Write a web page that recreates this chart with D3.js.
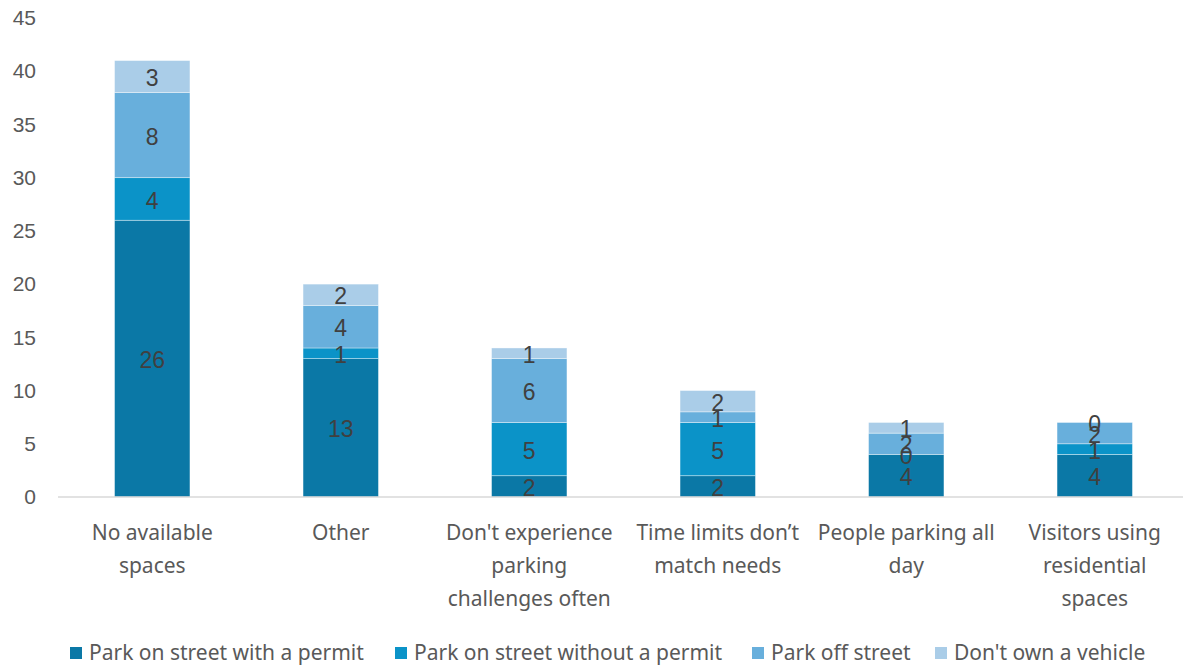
<!DOCTYPE html>
<html>
<head>
<meta charset="utf-8">
<script src="https://cdn.jsdelivr.net/npm/d3@7"></script>
<style>
  html, body { margin: 0; padding: 0; background: #ffffff; }
  svg { display: block; }
</style>
</head>
<body>
<svg id="chart" width="1183" height="666"></svg>
<script>
// Reasons for parking difficulty, split by how respondents park
const categories = [
  "No available spaces",
  "Other",
  "Don't experience parking challenges often",
  "Time limits don’t match needs",
  "People parking all day",
  "Visitors using residential spaces"
];
const categoryLines = [
  ["No available", "spaces"],
  ["Other"],
  ["Don't experience", "parking", "challenges often"],
  ["Time limits don’t", "match needs"],
  ["People parking all", "day"],
  ["Visitors using", "residential", "spaces"]
];
const seriesNames = [
  "Park on street with a permit",
  "Park on street without a permit",
  "Park off street",
  "Don't own a vehicle"
];
const withPermit    = [26, 13, 2, 2, 4, 4];
const withoutPermit = [4, 1, 5, 5, 0, 1];
const offStreet     = [8, 4, 6, 1, 2, 2];
const noVehicle     = [3, 2, 1, 2, 1, 0];
const yTicks = [0, 5, 10, 15, 20, 25, 30, 35, 40, 45];

const colors = ["#0b78a6", "#0b93c8", "#68afdc", "#aacde8"];

const table = categories.map((c, i) => ({
  category: c,
  [seriesNames[0]]: withPermit[i],
  [seriesNames[1]]: withoutPermit[i],
  [seriesNames[2]]: offStreet[i],
  [seriesNames[3]]: noVehicle[i]
}));

const svg = d3.select("#chart");

const x = d3.scaleBand()
  .domain(categories)
  .range([58, 1189])
  .paddingInner(0.6)
  .paddingOuter(0.3);

const y = d3.scaleLinear()
  .domain([0, 45])
  .range([497, 18]);

const stack = d3.stack().keys(seriesNames);
const layers = stack(table);

const labelFont = "'Noto Sans', 'Open Sans', sans-serif";
const numberFont = "'Liberation Sans', Arial, sans-serif";

// y axis labels (no axis line or gridlines)
const yAxis = svg.append("g")
  .attr("transform", "translate(36,0)")
  .call(d3.axisLeft(y).tickValues(yTicks).tickSize(0).tickPadding(0));
yAxis.select(".domain").remove();
yAxis.selectAll("text")
  .attr("font-family", numberFont)
  .attr("font-size", 21)
  .attr("fill", "#595959");

// stacked bars
const layerG = svg.append("g")
  .selectAll("g")
  .data(layers)
  .join("g")
  .attr("fill", (d, i) => colors[i]);

layerG.selectAll("rect")
  .data(d => d)
  .join("rect")
  .attr("x", d => x(d.data.category))
  .attr("width", x.bandwidth())
  .attr("y", d => y(d[1]))
  .attr("height", d => y(d[0]) - y(d[1]))
  .attr("stroke", "#ffffff")
  .attr("stroke-opacity", 0.5)
  .attr("stroke-width", 0.75);

// value labels centred in each segment
svg.append("g")
  .selectAll("g")
  .data(layers)
  .join("g")
  .selectAll("text")
  .data(d => d.map(s => ({ s, key: d.key })))
  .join("text")
  .attr("x", d => x(d.s.data.category) + x.bandwidth() / 2)
  .attr("y", d => (y(d.s[0]) + y(d.s[1])) / 2)
  .attr("dy", "0.42em")
  .attr("text-anchor", "middle")
  .attr("font-family", numberFont)
  .attr("font-size", 23)
  .attr("fill", "#404040")
  .text(d => d.s.data[d.key]);

// baseline
svg.append("line")
  .attr("x1", 58).attr("x2", 1183)
  .attr("y1", y(0)).attr("y2", y(0))
  .attr("stroke", "#d9d9d9")
  .attr("stroke-width", 1.5);

// category labels
const catG = svg.append("g");
categories.forEach((c, i) => {
  const t = catG.append("text")
    .attr("text-anchor", "middle")
    .attr("font-family", labelFont)
    .attr("font-size", 21)
    .attr("fill", "#595959");
  categoryLines[i].forEach((line, j) => {
    t.append("tspan")
      .attr("x", x(c) + x.bandwidth() / 2)
      .attr("y", 540 + j * 33)
      .text(line);
  });
});

// legend
const legendX = [70, 395, 752, 935];
const legend = svg.append("g");
seriesNames.forEach((name, i) => {
  legend.append("rect")
    .attr("x", legendX[i])
    .attr("y", 647)
    .attr("width", 12)
    .attr("height", 12)
    .attr("fill", colors[i]);
  legend.append("text")
    .attr("x", legendX[i] + 19)
    .attr("y", 660)
    .attr("font-family", labelFont)
    .attr("font-size", 21)
    .attr("fill", "#595959")
    .text(name);
});
</script>
</body>
</html>
